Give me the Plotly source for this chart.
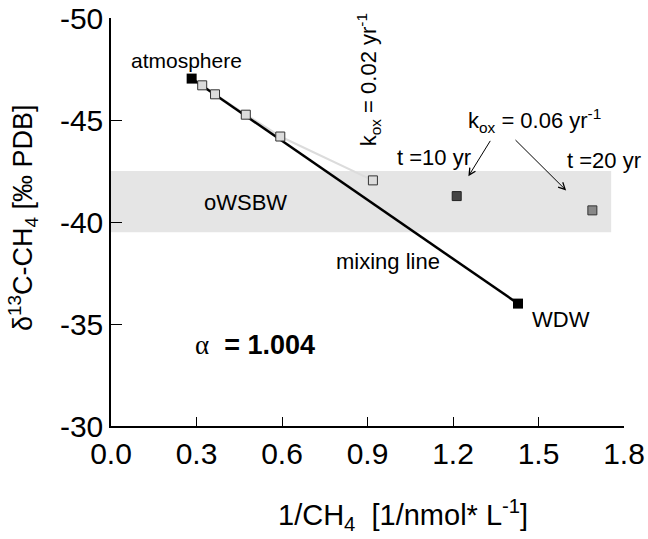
import plotly.graph_objects as go

# ---- data ----
atm_x, atm_y = [0.283], [-47.03]
wdw_x, wdw_y = [1.428], [-36.0]
kox02_x = [0.320, 0.365, 0.473, 0.594, 0.919]
kox02_y = [-46.70, -46.26, -45.26, -44.19, -42.04]
t10_x, t10_y = [1.213], [-41.27]
t20_x, t20_y = [1.689], [-40.57]
band_x = [0.0, 1.755]
band_y = [-42.5, -39.5]
x_ticks = [0.0, 0.3, 0.6, 0.9, 1.2, 1.5, 1.8]
x_ticklabels = ["0.0", "0.3", "0.6", "0.9", "1.2", "1.5", "1.8"]
y_ticks = [-50, -45, -40, -35, -30]
y_ticklabels = ["-50", "-45", "-40", "-35", "-30"]

FONT = "Liberation Sans, Arial, sans-serif"
W, H = 648, 539
ML, MR, MT, MB = 111, 24, 18, 113

fig = go.Figure()

# oxidation path (gray line)
fig.add_trace(go.Scatter(x=atm_x + kox02_x, y=atm_y + kox02_y, mode="lines",
                         line=dict(color="#dcdcdc", width=2.2), hoverinfo="skip"))
# mixing line
fig.add_trace(go.Scatter(x=atm_x + wdw_x, y=atm_y + wdw_y, mode="lines",
                         line=dict(color="black", width=2.5), hoverinfo="skip"))
# k_ox = 0.02 points
fig.add_trace(go.Scatter(x=kox02_x, y=kox02_y, mode="markers",
                         marker=dict(symbol="square", size=9, color="#dcdcdc",
                                     line=dict(color="#333333", width=1))))
# end members
fig.add_trace(go.Scatter(x=atm_x + wdw_x, y=atm_y + wdw_y, mode="markers",
                         marker=dict(symbol="square", size=10, color="black",
                                     line=dict(color="black", width=0))))
# k_ox = 0.06 points
fig.add_trace(go.Scatter(x=t10_x, y=t10_y, mode="markers",
                         marker=dict(symbol="square", size=9, color="#444444",
                                     line=dict(color="#222222", width=1))))
fig.add_trace(go.Scatter(x=t20_x, y=t20_y, mode="markers",
                         marker=dict(symbol="square", size=9, color="#888888",
                                     line=dict(color="#333333", width=1))))

fig.add_shape(type="rect", xref="x", yref="y", x0=band_x[0], x1=band_x[1],
              y0=band_y[0], y1=band_y[1], fillcolor="#e5e5e5", line=dict(width=0),
              layer="below")

def txt(x, y, s, size=22, **kw):
    fig.add_annotation(x=x, y=y, xref="x", yref="y", text=s, showarrow=False,
                       font=dict(family=FONT, size=size, color="black"), **kw)

txt(0.264, -47.93, "atmosphere", size=21)
txt(0.902, -46.95, "k<sub>ox</sub> = 0.02 yr<sup>-1</sup>", textangle=-90)
txt(1.485, -44.98, "k<sub>ox</sub> = 0.06 yr<sup>-1</sup>")
txt(1.133, -43.15, "t =10 yr")
txt(1.73, -43.02, "t =20 yr")
txt(0.472, -40.95, "oWSBW")
txt(0.972, -38.04, "mixing line")
txt(1.58, -35.22, "WDW")
txt(0.505, -33.95,
    "<span style=\"font-family:'Liberation Serif'\">α</span>  <b>= 1.004</b>", size=27)

# arrows
for (hx, hy, tx, ty) in [(1.254, -42.24, 1.334, -44.05), (1.597, -41.55, 1.414, -44.09)]:
    fig.add_annotation(x=hx, y=hy, ax=tx, ay=ty, xref="x", yref="y", axref="x", ayref="y",
                       text="", showarrow=True, arrowhead=5, arrowsize=1.3,
                       arrowwidth=1, arrowcolor="black")

# axis titles (placed as paper annotations)
pw, ph = W - ML - MR, H - MT - MB
fig.add_annotation(xref="paper", yref="paper", x=(403 - ML) / pw, y=-(515 - (H - MB)) / ph,
                   xanchor="center", yanchor="middle",
                   text="1/CH<sub>4</sub>  [1/nmol* L<sup>-1</sup>]", showarrow=False,
                   font=dict(family=FONT, size=29, color="black"))
fig.add_annotation(xref="paper", yref="paper", x=-(ML - 23) / pw, y=((H - MB) - 218) / ph,
                   xanchor="center", yanchor="middle",
                   text="δ<sup>13</sup>C-CH<sub>4</sub> [‰ PDB]", showarrow=False,
                   textangle=-90, font=dict(family=FONT, size=27, color="black"))

fig.update_layout(
    width=W, height=H, showlegend=False,
    plot_bgcolor="white", paper_bgcolor="white",
    margin=dict(l=ML, r=MR, t=MT, b=MB),
    font=dict(family=FONT, size=30, color="black"),
)
fig.update_xaxes(range=[0, 1.8], tickvals=x_ticks, ticktext=x_ticklabels,
                 ticks="inside", ticklen=9, tickwidth=1, tickcolor="black",
                 showline=True, linecolor="black", linewidth=1.5, showgrid=False,
                 zeroline=False, tickfont=dict(size=30), automargin=False)
fig.update_yaxes(range=[-30, -50], tickvals=y_ticks, ticktext=y_ticklabels,
                 ticks="inside", ticklen=11, tickwidth=1, tickcolor="black",
                 showline=True, linecolor="black", linewidth=1.5, showgrid=False,
                 zeroline=False, tickfont=dict(size=30), automargin=False)

fig.write_html("out.html")
